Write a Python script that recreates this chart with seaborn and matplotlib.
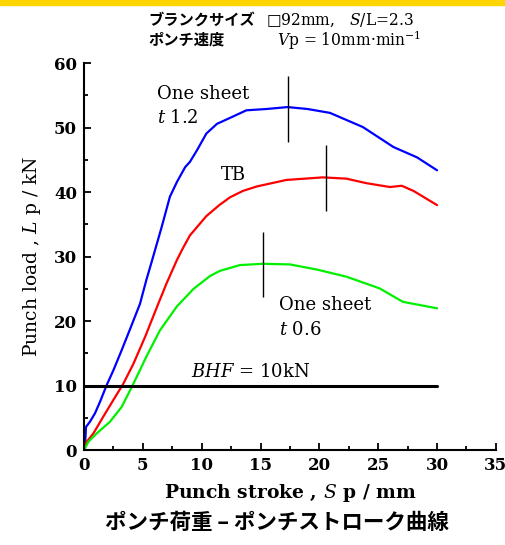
import pandas as pd
import matplotlib.pyplot as plt
import seaborn as sns
from matplotlib.ticker import MultipleLocator

# curves: stroke (mm), load (kN)
t12_stroke = [0, 0.08, 0.17, 0.5, 0.93, 1.36, 1.93, 2.5, 3.2, 4.05, 4.76, 5.3, 5.75,
              6.6, 7.3, 7.9, 8.6, 9.0, 9.6, 10.4, 11.3, 12.5, 13.8, 15.5, 17.3, 19.0,
              20.9, 23.7, 26.3, 27.3, 28.3, 30.0]
t12_load = [0, 0.3, 3.6, 4.4, 5.7, 7.5, 10.1, 12.4, 15.5, 19.4, 22.7, 26.4, 29.2,
            34.6, 39.3, 41.6, 43.9, 44.7, 46.5, 49.1, 50.6, 51.6, 52.7, 52.9, 53.2, 52.9,
            52.3, 50.1, 47.0, 46.2, 45.4, 43.4]

tb_stroke = [0, 0.23, 0.8, 1.64, 2.5, 3.34, 4.2, 5.2, 6.2, 7.0, 7.9, 8.4, 9.0, 10.4,
             11.5, 12.4, 13.5, 14.7, 17.2, 20.3, 22.3, 24.0, 26.0, 27.0, 28.0, 30.0]
tb_load = [0, 1.3, 2.6, 5.2, 7.8, 10.3, 13.4, 17.6, 22.2, 25.8, 29.5, 31.3, 33.3, 36.3,
           38.0, 39.2, 40.2, 40.9, 41.9, 42.3, 42.1, 41.4, 40.8, 41.0, 40.2, 38.0]

t06_stroke = [0, 0.37, 1.08, 2.2, 3.2, 4.2, 5.3, 6.46, 7.9, 9.3, 10.7, 11.55, 13.25,
              15.2, 17.5, 19.8, 22.3, 25.1, 27.1, 30.0]
t06_load = [0, 1.3, 2.6, 4.4, 6.7, 10.3, 14.5, 18.6, 22.3, 25.0, 27.0, 27.8, 28.7,
            28.9, 28.8, 28.0, 26.9, 25.1, 23.0, 22.0]

bhf_stroke = [0, 30.0]
bhf_load = [10.0, 10.0]

# vertical marks at the maximum load of each curve: stroke, lower, upper
peak_stroke = [17.3, 20.6, 15.2]
peak_low = [47.8, 37.1, 23.8]
peak_high = [58.0, 47.3, 33.8]

frames = []
for name, s, l in [("t1.2", t12_stroke, t12_load), ("TB", tb_stroke, tb_load),
                   ("t0.6", t06_stroke, t06_load), ("BHF", bhf_stroke, bhf_load)]:
    frames.append(pd.DataFrame({"stroke": s, "load": l, "case": name}))
df = pd.concat(frames, ignore_index=True)

sns.set_theme(style="ticks")
plt.rcParams['font.family'] = ['DejaVu Serif', 'Noto Sans CJK JP']
plt.rcParams['mathtext.fontset'] = 'dejavuserif'
for key in ['text.color', 'axes.labelcolor', 'xtick.color', 'ytick.color', 'axes.edgecolor']:
    plt.rcParams[key] = 'black'

fig = plt.figure(figsize=(5.06, 5.45), dpi=100)
ax = fig.add_axes([0.166, 0.174, 0.814, 0.710])

palette = {"t1.2": "#0000ff", "TB": "#ff0000", "t0.6": "#00f000", "BHF": "#000000"}
sns.lineplot(data=df[df.case != "BHF"], x="stroke", y="load", hue="case",
             palette=palette, linewidth=1.6, legend=False, ax=ax, estimator=None, sort=False)
sns.lineplot(data=df[df.case == "BHF"], x="stroke", y="load", color="black",
             linewidth=2.2, legend=False, ax=ax, estimator=None)
ax.vlines(peak_stroke, peak_low, peak_high, color="black", linewidth=1.0)

ax.set_xlim(0, 35)
ax.set_ylim(0, 60)
ax.xaxis.set_major_locator(MultipleLocator(5))
ax.xaxis.set_minor_locator(MultipleLocator(2.5))
ax.yaxis.set_major_locator(MultipleLocator(10))
ax.yaxis.set_minor_locator(MultipleLocator(5))
ax.tick_params(which="both", direction="in", width=1.3, labelsize=12, pad=5)
ax.tick_params(which="major", length=5)
ax.tick_params(which="minor", length=3)
for lab in ax.get_xticklabels() + ax.get_yticklabels():
    lab.set_fontweight("bold")
for side in ["top", "right"]:
    ax.spines[side].set_visible(False)
for side in ["left", "bottom"]:
    ax.spines[side].set_linewidth(1.5)

ax.set_xlabel("Punch stroke , $S$ p / mm", fontsize=13.5, fontweight="bold", labelpad=6)
ax.set_ylabel("Punch load , $L$ p / kN", fontsize=13.5, labelpad=8)

txt = dict(fontsize=13, color="black")
ax.text(6.2, 55.3, "One sheet", va="center", ha="left", **txt)
ax.text(6.2, 51.5, "$t$ 1.2", va="center", ha="left", **txt)
ax.text(11.6, 42.6, "TB", va="center", ha="left", **txt)
ax.text(16.6, 22.5, "One sheet", va="center", ha="left", **txt)
ax.text(16.6, 18.6, "$t$ 0.6", va="center", ha="left", **txt)
ax.text(9.1, 12.1, "$BHF$ = 10kN", va="center", ha="left", **txt)

# header lines and caption
fig.patches.append(plt.Rectangle((0, 1 - 5 / 545), 1, 5 / 545, transform=fig.transFigure,
                                 color="#ffd500", zorder=0))
head = dict(fontsize=11, fontweight="bold", va="center", ha="left")
fig.text(148 / 506, 1 - 20 / 545, "ブランクサイズ", family=['Noto Sans CJK JP'], **head)
fig.text(266 / 506, 1 - 20 / 545, "□92mm,   $S$/L=2.3", family=['DejaVu Serif', 'Noto Sans CJK JP'],
         fontsize=11.2, va="center", ha="left")
fig.text(148 / 506, 1 - 40 / 545, "ポンチ速度", family=['Noto Sans CJK JP'], **head)
fig.text(277 / 506, 1 - 40 / 545, "$V$p = 10mm\u00b7min$^{-1}$",
         fontsize=11.2, va="center", ha="left")
fig.text(277 / 506, 1 - 522 / 545, "ポンチ荷重 – ポンチストローク曲線", family=['Noto Sans CJK JP'],
         fontsize=15.5, fontweight="bold", va="center", ha="center")

fig.savefig("out.png", dpi=100)
